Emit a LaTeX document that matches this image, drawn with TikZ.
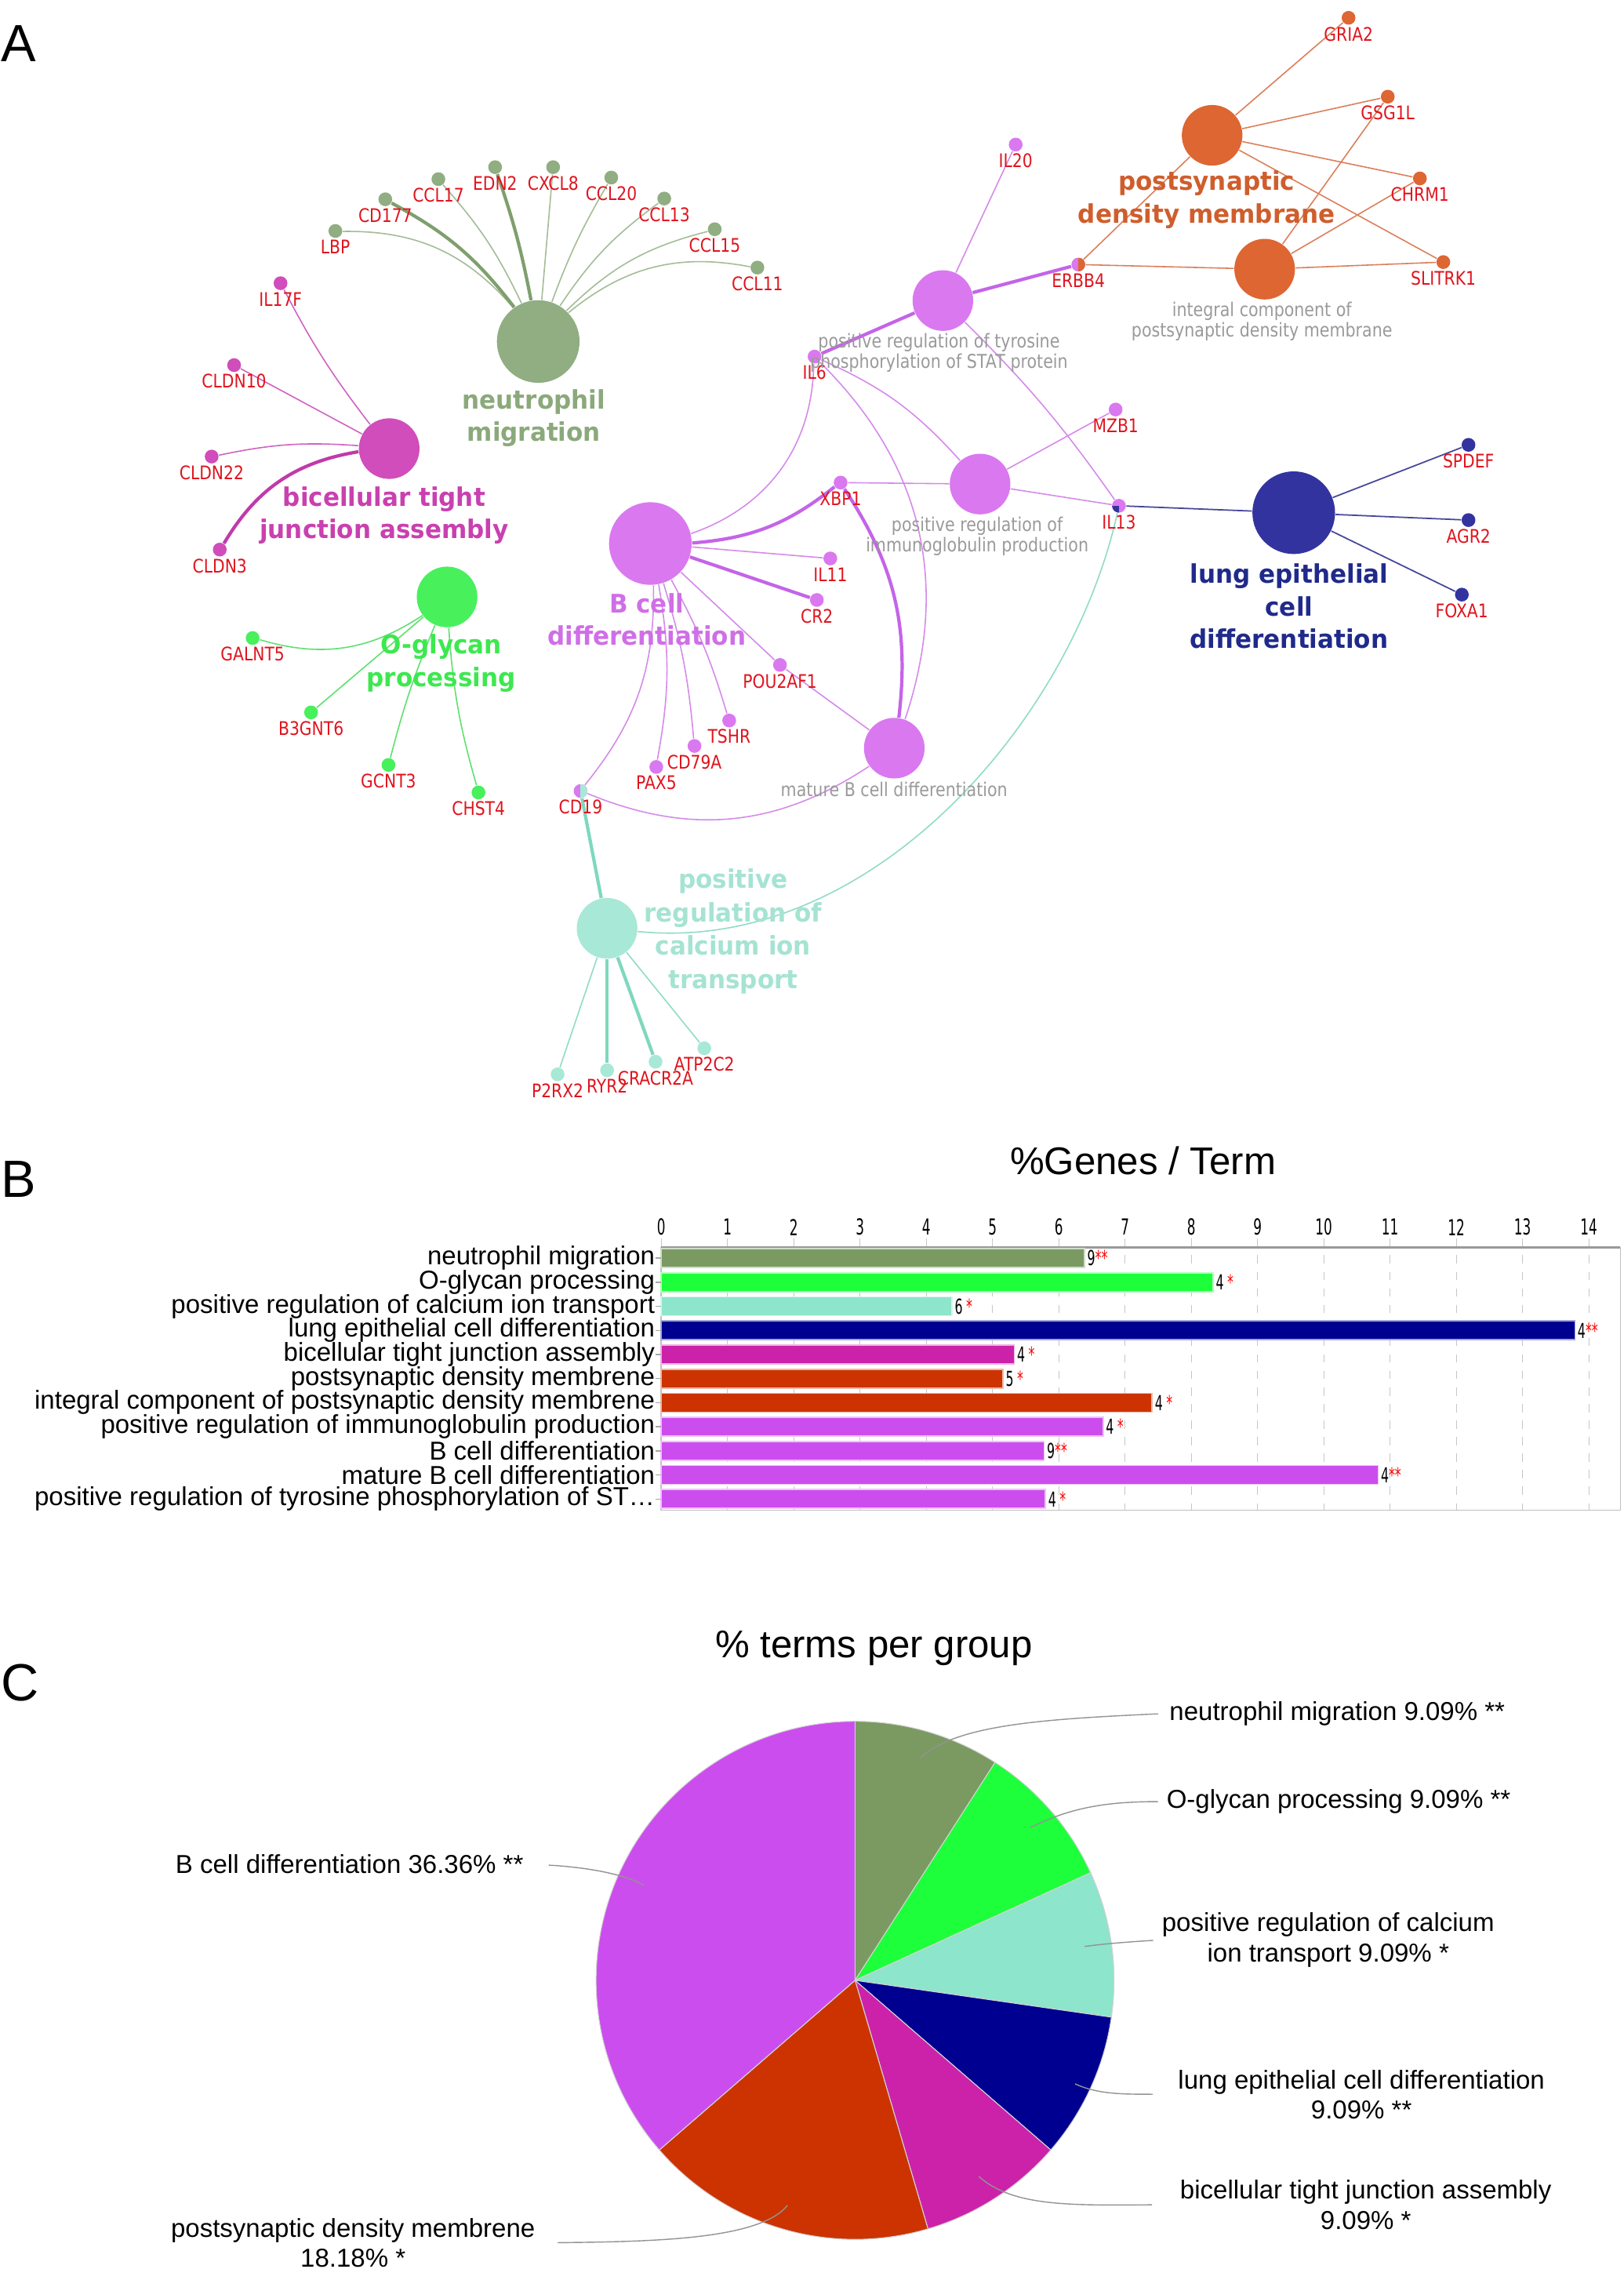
\documentclass[tikz,border=0pt]{standalone}
\usepackage{fontspec}
\setmainfont{Liberation Sans}
\newfontfamily\genefont[FakeStretch=0.85]{DejaVu Sans}
\newfontfamily\grpfont[FakeStretch=0.95]{DejaVu Sans}
\newfontfamily\numfont[FakeStretch=0.6]{DejaVu Sans}

% network colours
\definecolor{nmgreen}{HTML}{90AE81}
\definecolor{nmtext}{HTML}{8BA97B}
\definecolor{nmedge}{HTML}{A3BC96}
\definecolor{nmdark}{HTML}{7F9F6E}
\definecolor{btmag}{HTML}{D04DBB}
\definecolor{bttext}{HTML}{C940B0}
\definecolor{btedge}{HTML}{CF63C0}
\definecolor{btdark}{HTML}{C03AAA}
\definecolor{oggreen}{HTML}{48F05C}
\definecolor{ogtext}{HTML}{3DE84F}
\definecolor{ogedge}{HTML}{5EE070}
\definecolor{bcviol}{HTML}{DA78F0}
\definecolor{bctext}{HTML}{CF6FE6}
\definecolor{bcedge}{HTML}{D58AEA}
\definecolor{bcdark}{HTML}{C464E8}
\definecolor{psorange}{HTML}{DD6633}
\definecolor{pstext}{HTML}{CF5E2C}
\definecolor{psedge}{HTML}{DB7F5A}
\definecolor{lungblue}{HTML}{3333A0}
\definecolor{lungtext}{HTML}{1F2A8A}
\definecolor{lungedge}{HTML}{46469A}
\definecolor{calaqua}{HTML}{A8E8D6}
\definecolor{caltext}{HTML}{A5E3D2}
\definecolor{caledge}{HTML}{8FDCC6}
\definecolor{caldark}{HTML}{7ED8BE}
\definecolor{genered}{HTML}{E0141E}
\definecolor{termgray}{HTML}{9A9A9A}
% chart colours
\definecolor{cNM}{HTML}{7A9A62}
\definecolor{cOG}{HTML}{1EFF3C}
\definecolor{cCA}{HTML}{8DE5CB}
\definecolor{cLE}{HTML}{000090}
\definecolor{cBT}{HTML}{CC22AA}
\definecolor{cPS}{HTML}{CC3300}
\definecolor{cBC}{HTML}{CC4DEE}

\pgfdeclarelayer{bg}
\pgfdeclarelayer{edges}
\pgfsetlayers{bg,edges,main}

\begin{document}
\begin{tikzpicture}[x=0.018458cm, y=-0.018458cm,
  term/.style={circle, inner sep=0pt, minimum size=22pt},
  bigterm/.style={circle, inner sep=0pt, minimum size=30pt},
  gene/.style={circle, inner sep=0pt, minimum size=5pt, label distance=1.2pt,
    label={[genelab]below:#1}},
  genelab/.style={font=\genefont\fontsize{6.8}{7}\selectfont, text=genered, inner sep=0.4pt},
  grplab/.style={font=\grpfont\bfseries\fontsize{9.3}{11.8}\selectfont, align=center, inner sep=0pt},
  termlab/.style={font=\genefont\fontsize{6.9}{7.4}\selectfont, text=termgray, align=center, inner sep=0pt},
  nmline/.style={draw=nmedge, line width=0.45pt},
  nmthick/.style={draw=nmdark, line width=1.2pt},
  btline/.style={draw=btedge, line width=0.45pt},
  btthick/.style={draw=btdark, line width=1.2pt},
  ogline/.style={draw=ogedge, line width=0.45pt},
  bcline/.style={draw=bcedge, line width=0.45pt},
  bcthick/.style={draw=bcdark, line width=1.2pt},
  psline/.style={draw=psedge, line width=0.45pt},
  lungline/.style={draw=lungedge, line width=0.5pt},
  calline/.style={draw=caledge, line width=0.45pt},
  calthick/.style={draw=caldark, line width=1.2pt},
  panel/.style={font=\fontsize{19}{19}\selectfont, inner sep=0pt},
  charttitle/.style={font=\fontsize{14}{14}\selectfont, inner sep=0pt},
  barlab/.style={font=\fontsize{9.4}{10}\selectfont, inner sep=0pt, anchor=east},
  ticklab/.style={font=\numfont\fontsize{8}{8}\selectfont, inner sep=0pt},
  cntlab/.style={font=\numfont\fontsize{7.5}{8}\selectfont, inner sep=0.8pt, anchor=west},
  gridline/.style={draw=gray!45, dashed, line width=0.3pt},
  pielab/.style={font=\fontsize{9.4}{11}\selectfont, align=center, inner sep=0pt},
  leader/.style={draw=gray!85, line width=0.4pt}]

% Page
\useasboundingbox (0,0) rectangle (1122,1568);
\begin{pgfonlayer}{bg}
  \fill[white] (0,0) rectangle (1122,1568);
\end{pgfonlayer}

% Panel letters
\node[panel] (pa) at (13,30) {A};
\node[panel] (pb) at (13,815) {B};
\node[panel] (pc) at (14,1163) {C};

%%%%%%%%%%%%%%%% A: network %%%%%%%%%%%%%%%%
% Term circles
\node[bigterm, fill=nmgreen] (nm) at (372,236) {};
\node[term, fill=btmag] (bta) at (269,310) {};
\node[term, fill=oggreen] (ogp) at (309,412.5) {};
\node[bigterm, fill=bcviol] (bcd) at (449.5,375.6) {};
\node[term, fill=bcviol] (stat) at (651.7,207.7) {};
\node[term, fill=bcviol] (ig) at (677.4,334.5) {};
\node[term, fill=bcviol] (mat) at (618.1,517) {};
\node[term, fill=psorange] (psd) at (837.8,93.5) {};
\node[term, fill=psorange] (icp) at (874.1,186) {};
\node[bigterm, fill=lungblue] (lec) at (894.2,354.3) {};
\node[term, fill=calaqua] (cal) at (419.6,641.5) {};

% Genes
\node[gene=LBP, fill=nmgreen] (lbp) at (231.8,159.6) {};
\node[gene=CD177, fill=nmgreen] (cd177) at (266.3,137.7) {};
\node[gene=CCL17, fill=nmgreen] (ccl17) at (303,123.8) {};
\node[gene=EDN2, fill=nmgreen] (edn2) at (342.2,115.5) {};
\node[gene=CXCL8, fill=nmgreen] (cxcl8) at (382.3,115.5) {};
\node[gene=CCL20, fill=nmgreen] (ccl20) at (422.5,122.7) {};
\node[gene=CCL13, fill=nmgreen] (ccl13) at (459.1,137.2) {};
\node[gene=CCL15, fill=nmgreen] (ccl15) at (494,158.4) {};
\node[gene=CCL11, fill=nmgreen] (ccl11) at (523.5,184.9) {};

\node[gene=IL17F, fill=btmag] (il17f) at (193.9,195.7) {};
\node[gene=CLDN10, fill=btmag] (cldn10) at (161.8,252.3) {};
\node[gene=CLDN22, fill=btmag] (cldn22) at (146.3,315.5) {};
\node[gene=CLDN3, fill=btmag] (cldn3) at (151.9,379.8) {};

\node[gene=GALNT5, fill=oggreen] (galnt5) at (174.6,440.9) {};
\node[gene=B3GNT6, fill=oggreen] (b3gnt6) at (215,492.3) {};
\node[gene=GCNT3, fill=oggreen] (gcnt3) at (268.5,528.6) {};
\node[gene=CHST4, fill=oggreen] (chst4) at (330.7,547.6) {};

\node[gene=IL6, fill=bcviol] (il6) at (563,246.4) {};
\node[gene=XBP1, fill=bcviol] (xbp1) at (581,333.5) {};
\node[gene=IL11, fill=bcviol] (il11) at (573.9,385.9) {};
\node[gene=CR2, fill=bcviol] (cr2) at (564.6,414.6) {};
\node[gene=POU2AF1, fill=bcviol] (pou2af1) at (539.1,459.5) {};
\node[gene=TSHR, fill=bcviol] (tshr) at (504,497.9) {};
\node[gene=CD79A, fill=bcviol] (cd79a) at (480,515.5) {};
\node[gene=PAX5, fill=bcviol] (pax5) at (453.6,530) {};
\node[gene=CD19, fill=bcviol, path picture={\fill[calaqua] (path picture bounding box.north) rectangle (path picture bounding box.south east);}] (cd19) at (401.3,546.6) {};
\node[gene=IL20, fill=bcviol] (il20) at (702,99.9) {};
\node[gene=MZB1, fill=bcviol] (mzb1) at (771.1,283) {};
\node[gene=ERBB4, fill=bcviol, path picture={\fill[psorange] (path picture bounding box.north) rectangle (path picture bounding box.south east);}] (erbb4) at (745.3,182.8) {};
\node[gene=IL13, fill=bcviol, path picture={\fill[lungblue] (path picture bounding box.center) rectangle (path picture bounding box.south west);}] (il13) at (773.4,349.5) {};

\node[gene=GRIA2, fill=psorange] (gria2) at (932.1,12.3) {};
\node[gene=GSG1L, fill=psorange] (gsg1l) at (959.2,66.8) {};
\node[gene=CHRM1, fill=psorange] (chrm1) at (981.4,123.3) {};
\node[gene=SLITRK1, fill=psorange] (slitrk1) at (997.6,181.1) {};

\node[gene=SPDEF, fill=lungblue] (spdef) at (1015,307.4) {};
\node[gene=AGR2, fill=lungblue] (agr2) at (1015,359.4) {};
\node[gene=FOXA1, fill=lungblue] (foxa1) at (1010.4,410.9) {};

\node[gene=P2RX2, fill=calaqua] (p2rx2) at (385.4,742.4) {};
\node[gene=RYR2, fill=calaqua] (ryr2) at (419.6,739.6) {};
\node[gene=CRACR2A, fill=calaqua] (cracr2a) at (453.1,733.7) {};
\node[gene=ATP2C2, fill=calaqua] (atp2c2) at (486.8,724.4) {};

% Term labels
\node[grplab, text=nmtext] (nm-lab) at (369,289) {neutrophil\\migration};
\node[grplab, text=bttext] (bta-lab) at (265.5,356) {bicellular tight\\junction assembly};
\node[grplab, text=ogtext] (ogp-lab) at (305,458.3) {O-glycan\\processing};
\node[grplab, text=bctext] (bcd-lab) at (447,428) {B cell\\differentiation};
\node[grplab, text=pstext] (psd-lab) at (834,138) {postsynaptic\\density membrane};
\node[grplab, text=lungtext] (lec-lab) at (891,419) {lung epithelial\\cell\\differentiation};
\node[grplab, text=caltext, font=\grpfont\bfseries\fontsize{9.3}{12.1}\selectfont] (cal-lab) at (506.7,643.5) {positive\\regulation of\\calcium ion\\transport};
\node[termlab] (stat-lab) at (649,243.6) {positive regulation of tyrosine\\phosphorylation of STAT protein};
\node[termlab] (ig-lab) at (675.4,370.4) {positive regulation of\\immunoglobulin production};
\node[termlab] (mat-lab) at (618,545.5) {mature B cell differentiation};
\node[termlab] (icp-lab) at (872.2,222) {integral component of\\postsynaptic density membrane};

% Edges
\begin{pgfonlayer}{edges}
% neutrophil migration
\draw[nmline] (lbp) to[bend left=25] (nm);
\draw[nmthick] (cd177) to[bend left=12] (nm);
\draw[nmline] (ccl17) to[bend left=8] (nm);
\draw[nmthick] (edn2) to[bend left=4] (nm);
\draw[nmline] (cxcl8) -- (nm);
\draw[nmline] (ccl20) to[bend right=5] (nm);
\draw[nmline] (ccl13) to[bend right=10] (nm);
\draw[nmline] (ccl15) to[bend right=15] (nm);
\draw[nmline] (ccl11) to[bend right=25] (nm);
% bicellular tight junction assembly
\draw[btline] (il17f) to[bend right=5] (bta);
\draw[btline] (cldn10) -- (bta);
\draw[btline] (cldn22) to[bend left=8] (bta);
\draw[btthick] (cldn3) to[bend left=25] (bta);
% O-glycan processing
\draw[ogline] (galnt5) to[bend right=25] (ogp);
\draw[ogline] (b3gnt6) -- (ogp);
\draw[ogline] (gcnt3) to[bend left=4] (ogp);
\draw[ogline] (chst4) to[bend left=6] (ogp);
% B cell differentiation
\draw[bcline] (bcd) to[bend right=35] (il6);
\draw[bcthick] (bcd) to[bend right=17] (xbp1);
\draw[bcline] (bcd) -- (il11);
\draw[bcthick] (bcd) -- (cr2);
\draw[bcline] (bcd) -- (pou2af1);
\draw[bcline] (bcd) to[bend left=6] (tshr);
\draw[bcline] (bcd) to[bend left=6] (cd79a);
\draw[bcline] (bcd) to[bend left=10] (pax5);
\draw[bcline] (bcd) to[bend left=20] (cd19);
% tyrosine phosphorylation of STAT
\draw[bcthick] (stat) -- (il6);
\draw[bcline] (stat) -- (il20);
\draw[bcthick] (stat) -- (erbb4);
\draw[bcline] (stat) to[bend left=5] (il13);
% immunoglobulin production
\draw[bcline] (il6) to[bend left=12] (ig);
\draw[bcline] (xbp1) -- (ig);
\draw[bcline] (ig) -- (mzb1);
\draw[bcline] (ig) -- (il13);
% mature B cell differentiation
\draw[bcthick] (xbp1) to[bend left=20] (mat);
\draw[bcline] (il6) to[bend left=32] (mat);
\draw[bcline] (pou2af1) -- (mat);
\draw[bcline] (cd19) to[bend right=28] (mat);
% postsynaptic density membrane
\draw[psline] (psd) -- (gria2);
\draw[psline] (psd) -- (gsg1l);
\draw[psline] (psd) -- (chrm1);
\draw[psline] (psd) -- (slitrk1);
\draw[psline] (psd) -- (erbb4);
\draw[psline] (icp) -- (erbb4);
\draw[psline] (icp) -- (gsg1l);
\draw[psline] (icp) -- (chrm1);
\draw[psline] (icp) -- (slitrk1);
% lung epithelial cell differentiation
\draw[lungline] (lec) -- (il13);
\draw[lungline] (lec) -- (spdef);
\draw[lungline] (lec) -- (agr2);
\draw[lungline] (lec) -- (foxa1);
% calcium ion transport
\draw[calthick] (cal) -- (cd19);
\draw[calline] (cal) -- (p2rx2);
\draw[calthick] (cal) -- (ryr2);
\draw[calthick] (cal) -- (cracr2a);
\draw[calline] (cal) -- (atp2c2);
\draw[calline] (cal) .. controls (600,660) and (740,500) .. (il13);
\end{pgfonlayer}

%%%%%%%%%%%%%%%% B: bar chart %%%%%%%%%%%%%%%%
% Parameters
\def\bzero{457}; \def\bunit{45.8};
\def\btop{862}; \def\bbot{1043.5}; \def\bright{1120};

\node[charttitle] (btitle) at (790,802) {\%Genes / Term};

% Grid and tick labels
\foreach \t in {0,...,14} {
  \draw[gridline] ({\bzero+\bunit*\t},856) -- ({\bzero+\bunit*\t},\bbot);
  \node[ticklab] (tk\t) at ({\bzero+\bunit*\t},848) {\t};
}
\draw[gray!50, line width=0.4pt] (\bzero,\btop) -- (\bzero,\bbot) -- (\bright,\bbot) -- (\bright,\btop);
\draw[gray!80, line width=1pt] (\bzero,\btop) -- (\bright,\btop);

% Bars
\foreach \lab/\val/\cnt/\st/\col [count=\i from 0] in {
  neutrophil migration/6.39/9/**/cNM,
  O-glycan processing/8.33/4/\,*/cOG,
  positive regulation of calcium ion transport/4.39/6/\,*/cCA,
  lung epithelial cell differentiation/13.79/4/**/cLE,
  bicellular tight junction assembly/5.33/4/\,*/cBT,
  postsynaptic density membrene/5.16/5/\,*/cPS,
  integral component of postsynaptic density membrene/7.41/4/\,*/cPS,
  positive regulation of immunoglobulin production/6.67/4/\,*/cBC,
  B cell differentiation/5.78/9/**/cBC,
  mature B cell differentiation/10.82/4/**/cBC,
  positive regulation of tyrosine phosphorylation of ST\ldots/5.80/4/\,*/cBC} {
  \pgfmathsetmacro\yy{869.4+16.65*\i}
  \filldraw[fill=\col, draw=\col!35, line width=0.5pt] (\bzero,{\yy-6.5}) rectangle ({\bzero+\bunit*\val},{\yy+6.5});
  \draw[gray!70] ({\bzero-4},\yy) -- (\bzero,\yy);
  \node[barlab] (bl\i) at ({\bzero-4},\yy) {\lab};
  \node[cntlab] (bc\i) at ({\bzero+\bunit*\val},\yy) {\cnt\textcolor{red}{\st}};
}

%%%%%%%%%%%%%%%% C: pie chart %%%%%%%%%%%%%%%%
\node[charttitle] (ctitle) at (604,1139) {\% terms per group};

\def\pier{179}
\begin{scope}[shift={(591,1368.5)}, yscale=-1]
  \foreach \a/\b/\col in {90/57.27/cNM, 57.27/24.55/cOG, 24.55/-8.18/cCA,
      -8.18/-40.91/cLE, -40.91/-73.64/cBT, -73.64/-139.09/cPS, -139.09/-270/cBC}
    \filldraw[fill=\col, draw=gray!35, line width=0.3pt] (0,0) -- (\a:\pier) arc[start angle=\a, end angle=\b, radius=\pier] -- cycle;
\end{scope}

% Pie labels
\node[pielab, anchor=west] (pl-nm) at (808,1184) {neutrophil migration 9.09\% **};
\node[pielab, anchor=west] (pl-og) at (806,1245) {O-glycan processing 9.09\% **};
\node[pielab] (pl-ca) at (918,1340.5) {positive regulation of calcium\\ion transport 9.09\% *};
\node[pielab] (pl-le) at (941,1447.5) {lung epithelial cell differentiation\\9.09\% **};
\node[pielab] (pl-bt) at (944,1523.5) {bicellular tight junction assembly\\9.09\% *};
\node[pielab] (pl-ps) at (244,1550) {postsynaptic density membrene\\18.18\% *};
\node[pielab, anchor=west] (pl-bc) at (121,1288) {B cell differentiation 36.36\% **};

% Leaders
\coordinate (pn-nm) at (636,1215);
\coordinate (pn-og) at (712,1263);
\coordinate (pn-ca) at (749.6,1345.1);
\coordinate (pn-le) at (743,1440);
\coordinate (pn-bt) at (676.5,1504);
\coordinate (pn-ps) at (544.3,1524);
\coordinate (pn-bc) at (444.8,1302.8);
\draw[leader, shorten >=4pt] (pn-nm) .. controls (660,1192) and (720,1188) .. (pl-nm.west);
\draw[leader, shorten >=3pt] (pn-og) .. controls (740,1249) and (765,1245) .. (pl-og.west);
\draw[leader, shorten >=3pt] (pn-ca) .. controls (765,1343) and (780,1342) .. (pl-ca.west);
\draw[leader, shorten >=9pt] (pn-le) .. controls (760,1448) and (780,1447) .. (pl-le.west);
\draw[leader, shorten >=10pt] (pn-bt) .. controls (700,1525) and (740,1524) .. (pl-bt.west);
\draw[leader, shorten >=8pt] (pn-ps) .. controls (525,1548) and (450,1549) .. (pl-ps.east);
\draw[leader, shorten >=9pt] (pn-bc) .. controls (430,1294) and (400,1290) .. (pl-bc.east);
\end{tikzpicture}
\end{document}
